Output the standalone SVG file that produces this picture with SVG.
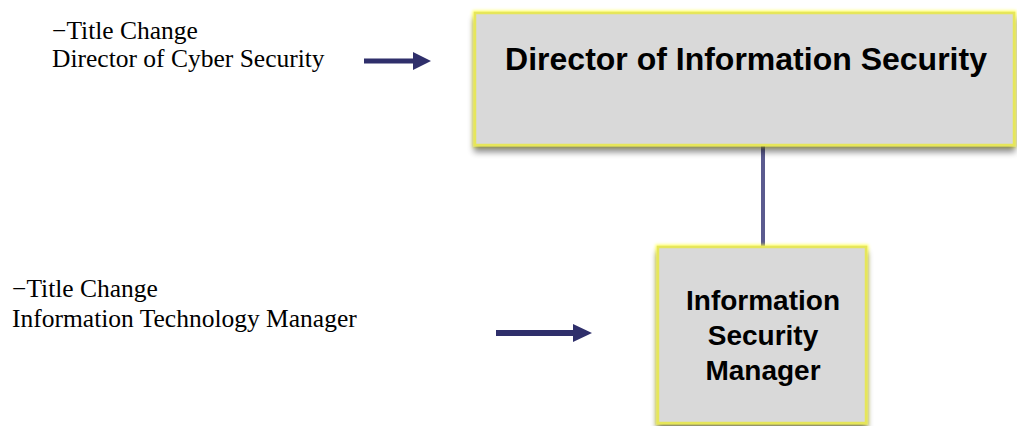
<svg xmlns="http://www.w3.org/2000/svg" width="1017" height="426" viewBox="0 0 1017 426">
<defs>
<filter id="shadow" x="-10%" y="-20%" width="120%" height="140%">
<feGaussianBlur in="SourceAlpha" stdDeviation="3"/>
<feOffset dx="0" dy="6" result="b"/>
<feComponentTransfer><feFuncA type="linear" slope="0.45"/></feComponentTransfer>
<feMerge><feMergeNode/><feMergeNode in="SourceGraphic"/></feMerge>
</filter>
<filter id="glow" x="-10%" y="-10%" width="120%" height="120%">
<feGaussianBlur stdDeviation="1.5"/>
</filter>
</defs>
<style>
.box{fill:#d9d9d9;stroke:#e6e65a;stroke-width:2.5}
.halo{fill:none;stroke:#ffff40;stroke-width:5;opacity:0.8}
.lbl{font-family:"Liberation Sans",Arial,sans-serif;font-weight:bold;fill:#000;text-anchor:middle}
.note{font-family:"Liberation Serif","Times New Roman",serif;font-size:25.5px;fill:#000}
.arr{fill:#2f2f6b}
.conn{stroke:#5b5b8f;stroke-width:4;fill:none}
</style>
<g id="connectors">
<line class="conn" x1="763" y1="145" x2="763" y2="247"/>
</g>
<g id="node-director">
<rect class="halo" x="475" y="13" width="539" height="132" filter="url(#glow)"/>
<rect class="box" x="475" y="13" width="539" height="132" filter="url(#shadow)"/>
<text class="lbl" x="746" y="70" font-size="32">Director of Information Security</text>
</g>
<g id="node-manager">
<rect class="halo" x="658" y="247" width="208" height="176" filter="url(#glow)"/>
<rect class="box" x="658" y="247" width="208" height="176" filter="url(#shadow)"/>
<text class="lbl" x="763" y="310" font-size="28">Information</text>
<text class="lbl" x="763" y="345" font-size="28">Security</text>
<text class="lbl" x="763" y="380" font-size="28">Manager</text>
</g>
<g id="note-1">
<text class="note" x="52" y="39">−Title Change</text>
<text class="note" x="52" y="67">Director of Cyber Security</text>
<path class="arr" d="M364 58.5 H413 V52 L431 61 L413 70 V63.5 H364 Z"/>
</g>
<g id="note-2">
<text class="note" x="12" y="297">−Title Change</text>
<text class="note" x="12" y="327">Information Technology Manager</text>
<path class="arr" d="M496 330 H573 V324 L592 333 L573 342 V336 H496 Z"/>
</g>
</svg>
